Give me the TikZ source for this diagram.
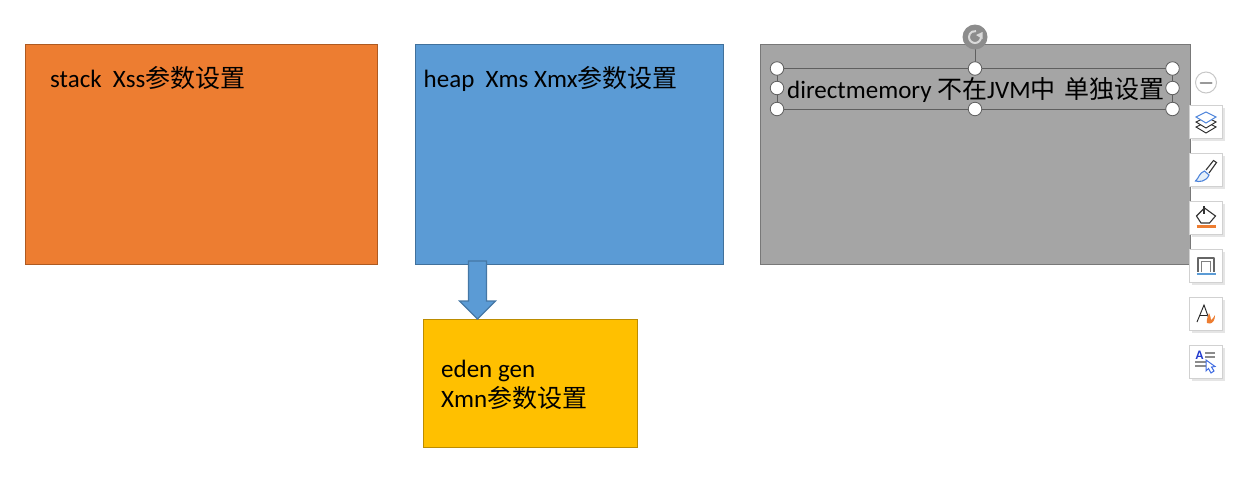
\documentclass[tikz,border=0pt]{standalone}
\usepackage{fontspec}
\setmainfont{Carlito}
\newfontfamily\cjkf{Noto Sans CJK SC}
\newcommand{\zh}[1]{{\cjkf\fontsize{25}{30}\selectfont #1}}
\definecolor{orangeF}{HTML}{ED7D31}
\definecolor{orangeD}{HTML}{AE5A21}
\definecolor{blueF}{HTML}{5B9BD5}
\definecolor{blueD}{HTML}{41719C}
\definecolor{grayF}{HTML}{A5A5A5}
\definecolor{grayD}{HTML}{787878}
\definecolor{goldF}{HTML}{FFC000}
\definecolor{goldD}{HTML}{BC8C00}
\definecolor{hgray}{HTML}{5F5F5F}
\usetikzlibrary{shadows}
\tikzset{
  panel/.style={draw=#1, line width=0.8pt, anchor=north west, inner sep=0pt},
  label/.style={anchor=base west, inner sep=0pt, text=black, font=\fontsize{25}{30}\selectfont},
  handle/.style={circle, draw=hgray, fill=white, line width=0.8pt, minimum size=13.5pt, inner sep=0pt},
  iconbox/.style={draw=black!18, fill=white, minimum size=33pt, inner sep=0pt, drop shadow={shadow xshift=2pt, shadow yshift=-2pt, opacity=.10, fill=black}},
}
\begin{document}
\begin{tikzpicture}[x=1pt,y=-1pt]
\useasboundingbox (0,0) rectangle (1240,493);
% panels
\node[panel=orangeD, fill=orangeF, minimum width=352pt, minimum height=220pt] (stack) at (25,44) {};
\node[panel=blueD, fill=blueF, minimum width=308pt, minimum height=220pt] (heap) at (415,44) {};
\node[panel=grayD, fill=grayF, minimum width=430pt, minimum height=220pt] (direct) at (760,44) {};
\node[panel=goldD, fill=goldF, minimum width=214pt, minimum height=128pt] (eden) at (423,319) {};
% block arrow
\draw[fill=blueF, draw=blueD!85!blueF, line width=1.2pt, line join=miter]
  (468.5,261) -- (486.5,261) -- (486.5,301) -- (495.5,301) -- (477.5,319) -- (459.5,301) -- (468.5,301) -- cycle;
% labels
\node[label] (stacktext) at (50,87) {stack\ \ Xss\zh{参数设置}};
\node[label] (heaptext) at (423.5,87) {heap\ \ Xms Xmx\zh{参数设置}};
\node[label] (edentext1) at (441,377) {eden gen};
\node[label] (edentext2) at (441,407) {Xmn\zh{参数设置}};
% selected text box
\draw[draw=hgray, line width=0.8pt] (777,68.5) rectangle (1172.5,109);
\draw[draw=hgray, line width=0.8pt] (975,37) -- (975,68);
\node[label] (directtext) at (787,98) {directmemory \zh{不在}JVM\zh{中\hspace{3pt} 单独设置}};
\foreach \n/\x/\y in {a/777/68.5, b/975/68.5, c/1172.5/68.5, d/777/88, e/1172.5/88, f/777/109, g/975/109, h/1172.5/109}
  \node[handle] (\n) at (\x,\y) {};
% rotate handle
\node[circle, fill=black!45, minimum size=25pt, inner sep=0pt] (rot) at (975,37) {};
\draw[white!85!black, line width=2pt] (981,37) arc (0:280:6);
\fill[white!85!black] (982.5,32) -- (982.5,39) -- (976,35) -- cycle;
% minus button
\node[circle, draw=black!22, fill=white, line width=1pt, minimum size=21pt, inner sep=0pt] (minus) at (1206,82.5) {};
\draw[black!40, line width=2pt, line cap=round] (1200.5,82.5) -- (1211.5,82.5);
% icon boxes
\foreach \n/\y in {i1/122, i2/170, i3/218, i4/266, i5/314, i6/362}
  \node[iconbox] (\n) at (1206,\y) {};
% layers
\draw[black!85, line width=.9pt] (1196,127) -- (1206,122) -- (1216,127) -- (1206,133) -- cycle;
\draw[black!85, fill=white, line width=.9pt] (1196,122) -- (1206,117) -- (1216,122) -- (1206,128) -- cycle;
\draw[blueF!85!blue, fill=white, line width=1pt] (1196,117) -- (1206,112) -- (1216,117) -- (1206,123) -- cycle;
% brush
\draw[black!80, line width=1.1pt] (1206,170) -- (1213.5,160.5) -- (1216.5,162.5) -- (1209,173);
\draw[blueF!85!blue, fill=blueF!15, line width=1.1pt] (1204.5,171) -- (1209,175) .. controls (1206,182) and (1199,182) .. (1195.5,181) .. controls (1199,178) and (1199,173) .. (1204.5,171) -- cycle;
% paint bucket
\draw[black!80, line width=1.1pt] (1196.5,216) -- (1204.5,208) -- (1215.5,216) -- (1209.5,223) -- (1201,223) -- cycle;
\draw[black!80, line width=1.1pt] (1204,206) -- (1204,214);
\draw[orangeF, line width=2.4pt] (1196.5,226.5) -- (1215.5,226.5);
% border
\draw[black!60, line width=2pt, line join=round] (1198,272) -- (1198,257.5) -- (1214,257.5) -- (1214,272);
\draw[black!50, line width=1pt] (1201.5,272) -- (1201.5,261) -- (1210.5,261) -- (1210.5,272);
\draw[blueF, line width=2.4pt] (1196.5,274) -- (1215.5,274);
% text effect
\draw[black!85, line width=.9pt] (1197,322) -- (1204,305) -- (1209,319);
\draw[black!85, line width=.9pt] (1200,315) -- (1207,315);
\fill[orangeF] (1207,323) .. controls (1206,319) and (1208,318) .. (1209,313) .. controls (1210,316) and (1211,317) .. (1211,320) .. controls (1212,319) and (1214,318) .. (1215,315) .. controls (1215,320) and (1213,323) .. (1210,323.5) -- cycle;
% text select
\node[inner sep=0pt, text=blueD!50!blue, font=\bfseries\fontsize{13}{13}\selectfont] (aglyph) at (1199.5,355) {A};
\draw[black!45, line width=1.3pt] (1205,353) -- (1215,353) (1205,357) -- (1215,357) (1195,362) -- (1208,362) (1195,366) -- (1208,366);
\draw[blueF!70!blue, fill=white, line width=1pt] (1206,360) -- (1206,371) -- (1208.5,368.5) -- (1211,373) -- (1214,371) -- (1211.5,367) -- (1215,366.5) -- cycle;
\end{tikzpicture}
\end{document}
